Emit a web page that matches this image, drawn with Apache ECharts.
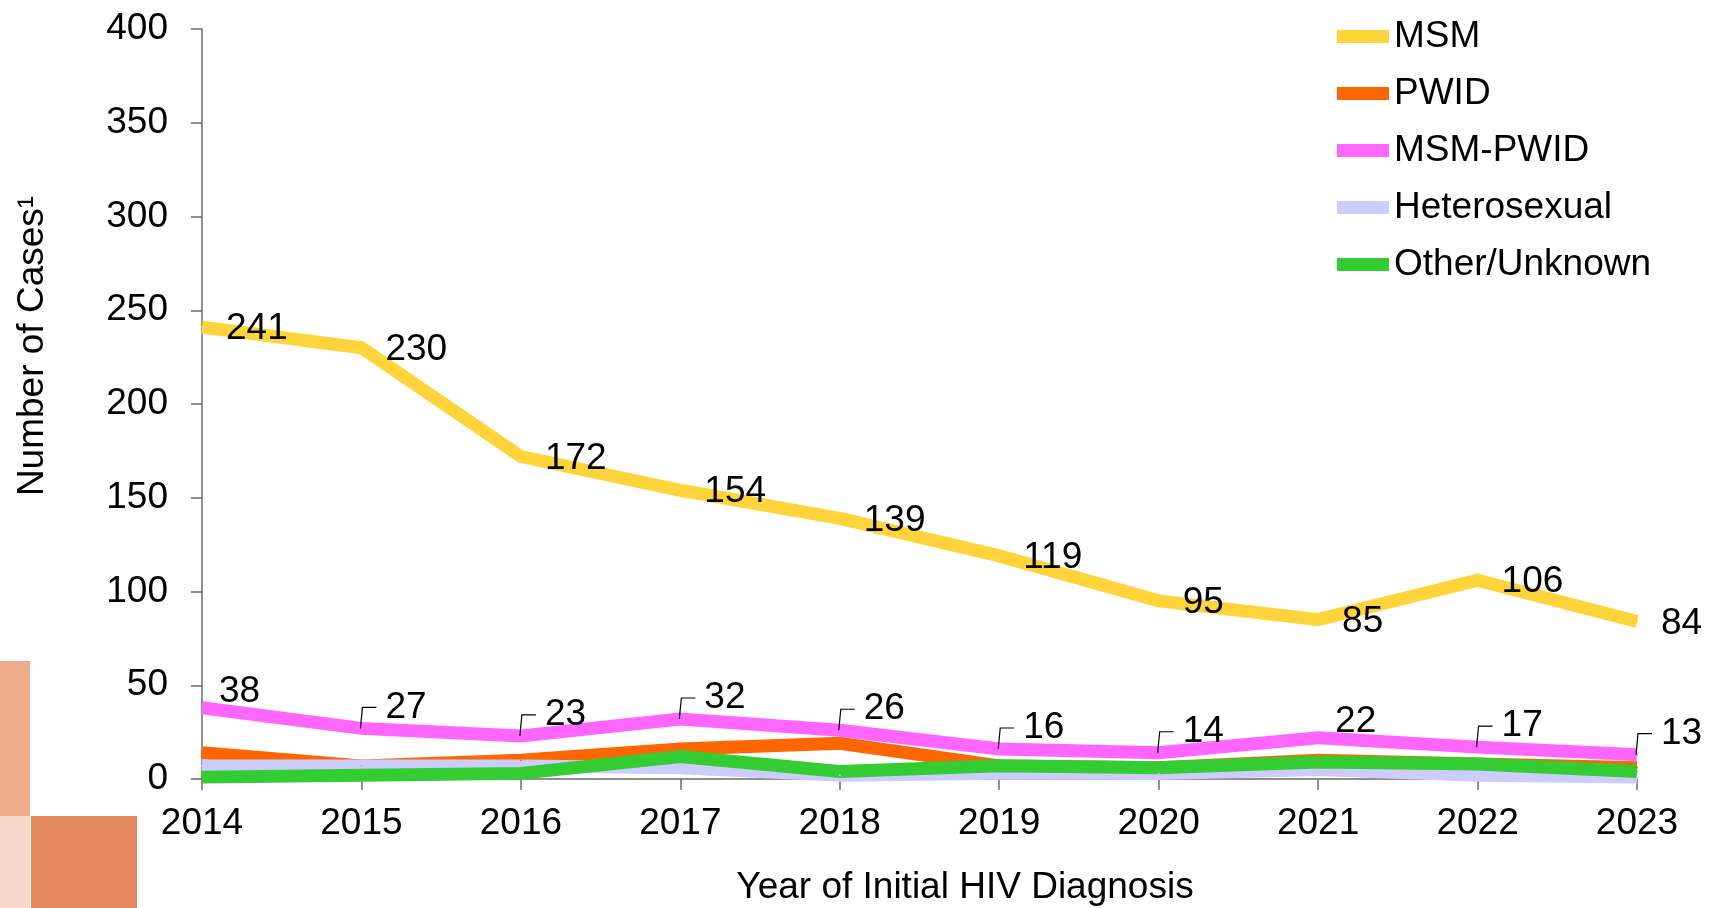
<!DOCTYPE html>
<html>
<head>
<meta charset="utf-8">
<title>HIV cases by transmission category</title>
<script src="https://cdn.jsdelivr.net/npm/echarts@6/dist/echarts.min.js"></script>
<style>
  html, body { margin: 0; padding: 0; background: #fff; }
  #chart { width: 1709px; height: 908px; }
</style>
</head>
<body>
<div id="chart"></div>
<script>
// data
const years = ['2014', '2015', '2016', '2017', '2018', '2019', '2020', '2021', '2022', '2023']
const msm = [241, 230, 172, 154, 139, 119, 95, 85, 106, 84]
const pwid = [14, 7, 10, 16, 19, 7, 6, 10, 8, 6]
const msmPwid = [38, 27, 23, 32, 26, 16, 14, 22, 17, 13]
const hetero = [7, 7, 7, 6, 2, 3, 3, 5, 2, 1]
const other = [1, 2, 3, 12, 4, 7, 6, 9, 8, 4]
// MSM-PWID labels that get the little leader line
const leaderYears = ['2015', '2016', '2017', '2018', '2019', '2020', '2022', '2023']

const FONT = '"Liberation Sans", Arial, sans-serif'
const FS = 37
const LW = 13

function lineSeries(name, data, color, label) {
  return {
    name: name,
    type: 'line',
    data: data,
    symbol: 'circle',
    symbolSize: 2,
    itemStyle: { color: color },
    lineStyle: { color: color, width: LW, cap: 'butt', join: 'miter' },
    label: label || { show: false },
    emphasis: { disabled: true },
    clip: false
  }
}

const chart = echarts.init(document.getElementById('chart'))

const pinkData = msmPwid.map((v, i) => ({
  value: v,
  label: { offset: leaderYears.indexOf(years[i]) >= 0 ? [23, -21] : [16, -16] }
}))

chart.setOption({
  animation: false,
  textStyle: { fontFamily: FONT },
  grid: { left: 202, right: 72, top: 29, bottom: 129 },
  legend: {
    data: ['MSM', 'PWID', 'MSM-PWID', 'Heterosexual', 'Other/Unknown'],
    orient: 'vertical',
    left: 1332,
    top: 13,
    itemWidth: 52,
    itemHeight: 13,
    itemGap: 20,
    icon: 'rect',
    textStyle: { fontSize: FS, color: '#000', fontFamily: FONT },
    selectedMode: false
  },
  xAxis: {
    type: 'category',
    data: years,
    boundaryGap: false,
    axisLine: { lineStyle: { color: '#6b6b6b', width: 1.5 } },
    axisTick: { show: true, length: 11, lineStyle: { color: '#6b6b6b', width: 1.5 } },
    axisLabel: { fontSize: FS, color: '#000', margin: 26, fontFamily: FONT }
  },
  yAxis: {
    type: 'value',
    min: 0,
    max: 400,
    interval: 50,
    splitLine: { show: false },
    axisLine: { show: true, lineStyle: { color: '#6b6b6b', width: 1.5 } },
    axisTick: { show: true, length: 11, lineStyle: { color: '#6b6b6b', width: 1.5 } },
    axisLabel: { fontSize: FS, color: '#000', margin: 34, fontFamily: FONT }
  },
  graphic: [
    // corner decoration
    { type: 'rect', left: 0, top: 661, shape: { width: 30, height: 155 }, style: { fill: '#EDAC8C' }, z: -1 },
    { type: 'rect', left: 0, top: 816, shape: { width: 30, height: 92 }, style: { fill: '#F6D7CA' }, z: -1 },
    { type: 'rect', left: 31, top: 816, shape: { width: 106, height: 92 }, style: { fill: '#E38A62' }, z: -1 },
    // axis titles
    {
      type: 'text', x: 33, y: 346, rotation: Math.PI / 2,
      style: { text: 'Number of Cases¹', font: FS + 'px ' + FONT, fill: '#000', align: 'center', verticalAlign: 'middle' }
    },
    {
      type: 'text', x: 965, y: 888,
      style: { text: 'Year of Initial HIV Diagnosis', font: FS + 'px ' + FONT, fill: '#000', align: 'center', verticalAlign: 'middle' }
    }
  ],
  series: [
    lineSeries('MSM', msm, '#FFD43B', {
      show: true, position: 'right', distance: 23, offset: [0, 2],
      fontSize: FS, color: '#000', fontFamily: FONT
    }),
    lineSeries('PWID', pwid, '#FF6600'),
    lineSeries('MSM-PWID', pinkData, '#FF66FF', {
      show: true, position: 'right', distance: 0,
      fontSize: FS, color: '#000', fontFamily: FONT
    }),
    lineSeries('Heterosexual', hetero, '#CCCCFF'),
    lineSeries('Other/Unknown', other, '#33CC33'),
    {
      // leader lines for the MSM-PWID labels
      name: 'leaders',
      type: 'custom',
      silent: true,
      z: 5,
      data: leaderYears.map(y => [years.indexOf(y), msmPwid[years.indexOf(y)]]),
      encode: { x: 0, y: 1 },
      renderItem: function (params, api) {
        const p = api.coord([api.value(0), api.value(1)])
        return {
          type: 'polyline',
          shape: { points: [[p[0] - 1, p[1]], [p[0] + 1, p[1] - 21], [p[0] + 15, p[1] - 21]] },
          style: { stroke: '#000', lineWidth: 1.2, fill: null }
        }
      }
    }
  ]
})
</script>
</body>
</html>
